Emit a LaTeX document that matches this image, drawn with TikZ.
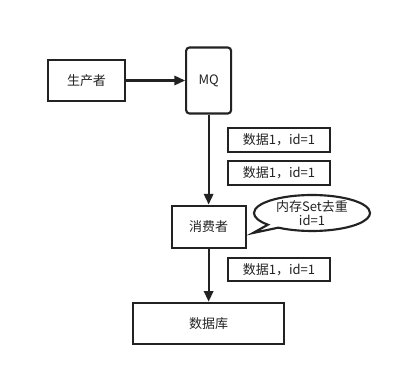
\documentclass[tikz,border=0pt]{standalone}
\usepackage{fontspec}
\setmainfont{Noto Sans CJK SC}
\usepackage{tikz}
\usetikzlibrary{positioning,arrows.meta,shapes.callouts}
\definecolor{MQInk}{HTML}{222222}

\begin{document}
\begin{tikzpicture}[
  x=0.75pt, y=-0.75pt,
  box/.style={draw=MQInk, line width=1.6pt, inner sep=0pt, align=center, text=MQInk, font=\fontsize{9.75}{11}\selectfont},
  msg/.style={box, minimum width=76.5pt, minimum height=18pt},
  arrow/.style={-{Triangle[length=8pt,width=7pt]}, line width=1.6pt, MQInk},
]
\useasboundingbox (0,0) rectangle (401,371);
\node[box, minimum width=57.75pt, minimum height=30.75pt] (prod) at (86.5,80.5) {生产者};
\node[box, rounded corners=2.5pt, minimum width=33.75pt, minimum height=49.5pt, right=44.25pt of prod] (mq) {MQ};
\node[box, minimum width=55.5pt, minimum height=31.5pt, below=67.5pt of mq] (cons) {消费者};
\node[box, minimum width=113.25pt, minimum height=30.75pt, below=39.75pt of cons] (db) {数据库};
\node[msg] (msg1) at (279,140) {数据1，id=1};
\node[msg, below=5.25pt of msg1] (msg2) {数据1，id=1};
\node[msg, minimum height=17.25pt] (msg3) at (279,269.5) {数据1，id=1};
\coordinate (tip) at (253,233);
\node[box, ellipse callout, callout absolute pointer={(tip)}, callout pointer arc=14,
      minimum width=87pt, minimum height=27pt, align=center, font=\fontsize{9.75}{10.5}\selectfont] (memo) at (312,213) {内存Set去重\\id=1};
\draw[arrow] (prod) -- (mq);
\draw[arrow] (mq) -- (cons);
\draw[arrow] (cons) -- (db);
\end{tikzpicture}
\end{document}
